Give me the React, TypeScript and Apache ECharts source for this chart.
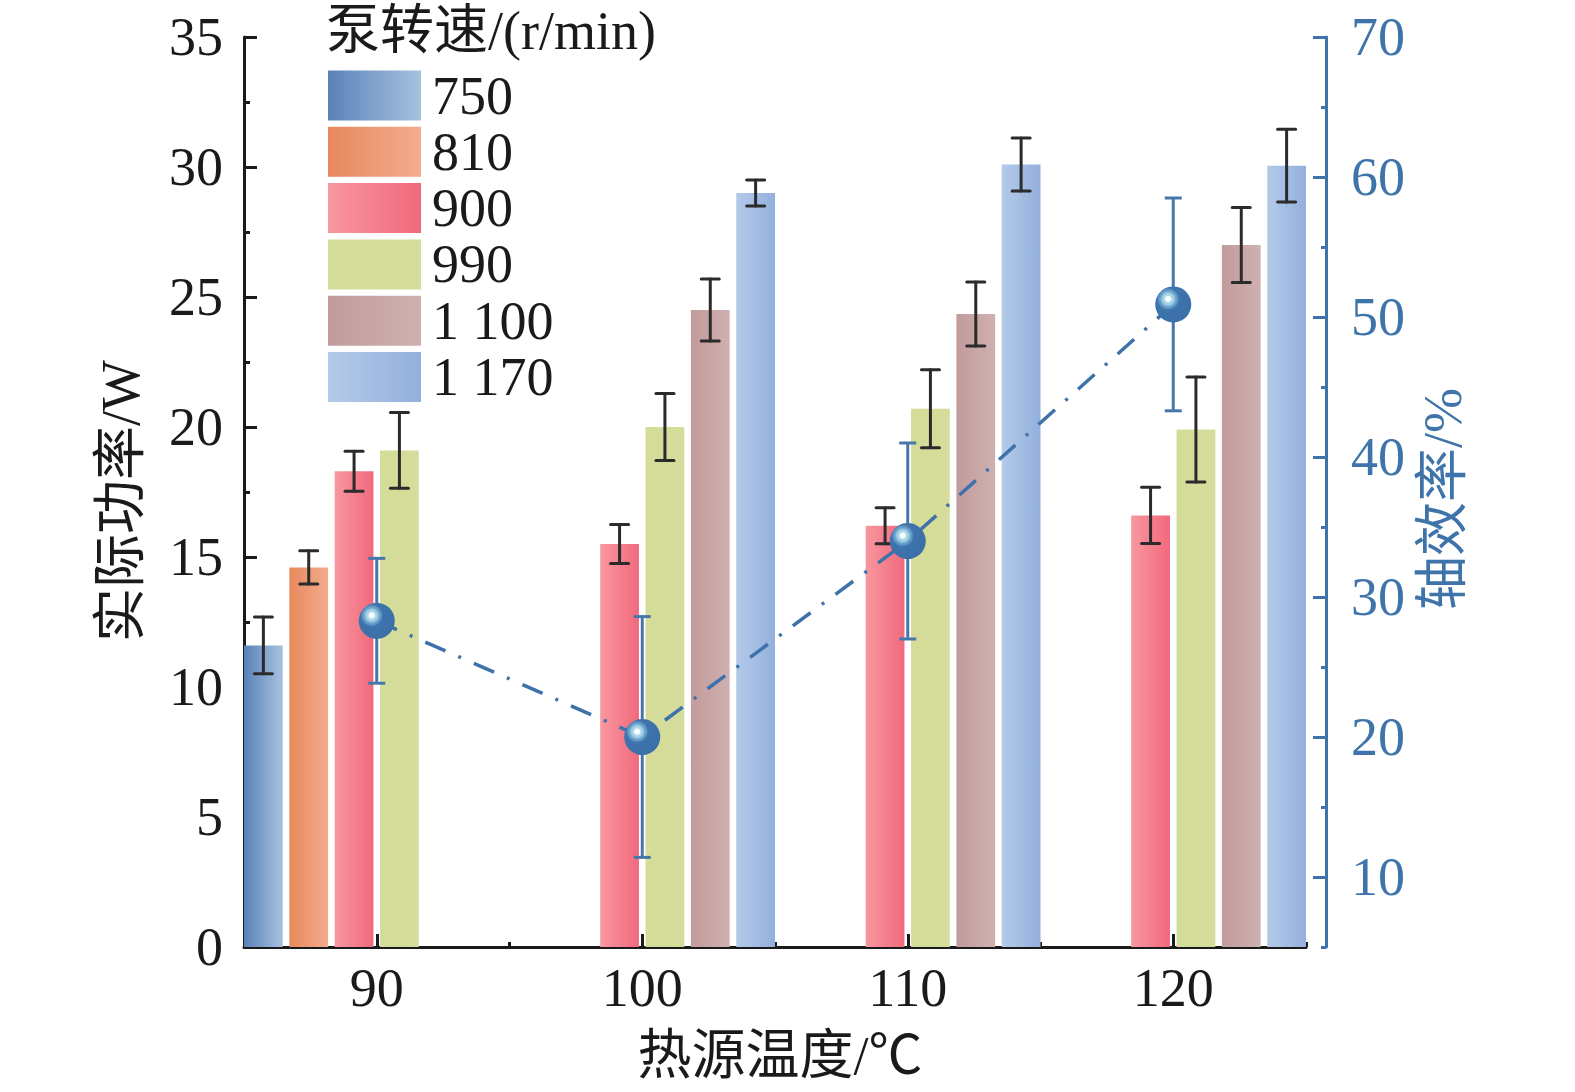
import React, { useEffect, useRef } from "react";
import * as echarts from "echarts";

// ---------- data ----------
const categories = ["90", "100", "110", "120"];
const speeds = ["750", "810", "900", "990", "1 100", "1 170"];

const power750 = [11.6, null, null, null];
const power810 = [14.6, null, null, null];
const power900 = [18.3, 15.5, 16.2, 16.6];
const power990 = [19.1, 20.0, 20.7, 19.9];
const power1100 = [null, 24.5, 24.35, 27.0];
const power1170 = [null, 29.0, 30.1, 30.05];

const err750 = [1.09, null, null, null];
const err810 = [0.64, null, null, null];
const err900 = [0.77, 0.75, 0.69, 1.08];
const err990 = [1.46, 1.29, 1.5, 2.02];
const err1100 = [null, 1.19, 1.23, 1.44];
const err1170 = [null, 0.5, 1.02, 1.4];

const efficiency = [28.3, 20.0, 34.0, 50.9];
const efficiencyErr = [4.46, 8.6, 7.0, 7.6];

const leftTicks = { min: 0, max: 35, interval: 5 };
const rightMajorTicks = [10, 20, 30, 40, 50, 60, 70];
const rightMinorTicks = [5, 15, 25, 35, 45, 55, 65];

const powerSeries = [power750, power810, power900, power990, power1100, power1170];
const errSeries = [err750, err810, err900, err990, err1100, err1170];

// ---------- styles ----------
const FONT = '"Liberation Serif", "Noto Sans CJK SC", serif';
const BLACK = "#1a1a1a";
const BLUE = "#3f74ab";
const BAR_GAP = 0.17;

const barColors: [string, string][] = [
  ["#5a82b9", "#a7c2df"],
  ["#e8885c", "#f2ad8e"],
  ["#f8979f", "#f1697d"],
  ["#d4dc98", "#d6dd9c"],
  ["#c29b9b", "#cfb0b0"],
  ["#b4cae9", "#93b0dc"],
];

function grad(c: [string, string]) {
  return new echarts.graphic.LinearGradient(0, 0, 1, 0, [
    { offset: 0, color: c[0] },
    { offset: 1, color: c[1] },
  ]);
}

export default function App() {
  const ref = useRef<HTMLDivElement>(null);

  useEffect(() => {
    if (!ref.current) return;
    const chart = echarts.init(ref.current, null, { renderer: "svg" });

    const barErrData: any[] = [];
    errSeries.forEach((arr, s) => {
      arr.forEach((e, c) => {
        const v = powerSeries[s][c];
        if (v != null && e != null) barErrData.push([c, v, s, e]);
      });
    });
    const lineErrData = efficiency.map((v, c) => [c, v, efficiencyErr[c]]);

    const renderBarErr = (params: any, api: any) => {
      const cat = api.value(0);
      const val = api.value(1);
      const s = api.value(2);
      const e = api.value(3);
      const center = api.coord([cat, val]);
      const band = api.size([1, 0])[0];
      const n = speeds.length;
      const bw = band / (n + (n - 1) * BAR_GAP);
      const x = center[0] - band / 2 + s * bw * (1 + BAR_GAP) + bw / 2;
      const yt = api.coord([cat, val + e])[1];
      const yb = api.coord([cat, val - e])[1];
      const cap = 9;
      const style = { stroke: "#2b2b2b", lineWidth: 3, lineCap: "round" };
      return {
        type: "group",
        children: [
          { type: "line", shape: { x1: x, y1: yt, x2: x, y2: yb }, style },
          { type: "line", shape: { x1: x - cap, y1: yt, x2: x + cap, y2: yt }, style },
          { type: "line", shape: { x1: x - cap, y1: yb, x2: x + cap, y2: yb }, style },
        ],
      };
    };

    const renderLineErr = (params: any, api: any) => {
      const cat = api.value(0);
      const val = api.value(1);
      const e = api.value(2);
      const x = api.coord([cat, val])[0];
      const yt = api.coord([cat, val + e])[1];
      const yb = api.coord([cat, val - e])[1];
      const cap = 8.5;
      const style = { stroke: "#4676aa", lineWidth: 3, lineCap: "butt" };
      return {
        type: "group",
        children: [
          { type: "line", shape: { x1: x, y1: yt, x2: x, y2: yb }, style },
          { type: "line", shape: { x1: x - cap, y1: yt, x2: x + cap, y2: yt }, style },
          { type: "line", shape: { x1: x - cap, y1: yb, x2: x + cap, y2: yb }, style },
        ],
      };
    };

    const sphere = new echarts.graphic.RadialGradient(0.36, 0.35, 0.9, [
      { offset: 0, color: "#ffffff" },
      { offset: 0.08, color: "#f4fbfd" },
      { offset: 0.11, color: "#b5dcec" },
      { offset: 0.19, color: "#98c9e0" },
      { offset: 0.23, color: "#72a9cf" },
      { offset: 0.3, color: "#5990c0" },
      { offset: 0.34, color: "#3e74ad" },
      { offset: 1, color: "#386ca5" },
    ]);

    const option: any = {
      animation: false,
      grid: { left: 244, right: 269, top: 37, bottom: 145, containLabel: false },
      legend: {
        data: speeds,
        orient: "vertical",
        left: 328,
        top: 68.5,
        padding: 0,
        itemWidth: 93,
        itemHeight: 50,
        itemGap: 2.3,
        icon: "rect",
        selectedMode: false,
        textStyle: { fontSize: 54, fontFamily: FONT, color: BLACK, padding: [0, 0, 0, 6] },
      },
      xAxis: [
        {
          type: "category",
          data: categories,
          position: "bottom",
          axisLine: { show: true, lineStyle: { color: BLACK, width: 3 } },
          axisTick: { show: true, inside: true, alignWithLabel: true, length: 13, lineStyle: { color: BLACK, width: 3 } },
          axisLabel: { fontSize: 54, fontFamily: FONT, color: BLACK, margin: 14 },
          splitLine: { show: false },
        },
        {
          type: "category",
          data: categories,
          position: "bottom",
          axisLine: { show: false },
          axisTick: { show: true, inside: true, alignWithLabel: false, length: 5, lineStyle: { color: BLACK, width: 3 } },
          axisLabel: { show: false },
          splitLine: { show: false },
        },
      ],
      yAxis: [
        {
          type: "value",
          position: "left",
          min: leftTicks.min,
          max: leftTicks.max,
          interval: leftTicks.interval,
          axisLine: { show: true, lineStyle: { color: BLACK, width: 3 } },
          axisTick: { show: true, inside: true, length: 13, lineStyle: { color: BLACK, width: 3 } },
          minorTick: { show: true, splitNumber: 2, length: 6, lineStyle: { color: BLACK, width: 3 } },
          axisLabel: { fontSize: 54, fontFamily: FONT, color: BLACK, margin: 21 },
          splitLine: { show: false },
          minorSplitLine: { show: false },
        },
        {
          type: "value",
          position: "right",
          offset: 20,
          min: 5,
          max: 70,
          axisLine: { show: true, lineStyle: { color: BLUE, width: 3 } },
          axisTick: { show: true, inside: true, length: 13, customValues: rightMajorTicks, lineStyle: { color: BLUE, width: 3 } },
          axisLabel: { fontSize: 54, fontFamily: FONT, color: BLUE, margin: 25, customValues: rightMajorTicks },
          splitLine: { show: false },
        },
        {
          type: "value",
          position: "right",
          offset: 20,
          min: 5,
          max: 70,
          axisLine: { show: false },
          axisTick: { show: true, inside: true, length: 5, customValues: rightMinorTicks, lineStyle: { color: BLUE, width: 3 } },
          axisLabel: { show: false },
          splitLine: { show: false },
        },
      ],
      graphic: [
        {
          type: "text",
          x: 326,
          y: 31,
          style: { text: "泵转速/(r/min)", fontSize: 54, fontFamily: FONT, fill: BLACK, align: "left", verticalAlign: "middle" },
        },
        {
          type: "text",
          x: 121,
          y: 501,
          rotation: Math.PI / 2,
          style: { text: "实际功率/W", fontSize: 54, fontFamily: FONT, fill: BLACK, align: "center", verticalAlign: "middle" },
        },
        {
          type: "text",
          x: 1443,
          y: 499,
          rotation: Math.PI / 2,
          style: { text: "轴效率/%", fontSize: 54, fontFamily: FONT, fill: BLUE, align: "center", verticalAlign: "middle" },
        },
        {
          type: "text",
          x: 780,
          y: 1056,
          style: { text: "热源温度/℃", fontSize: 54, fontFamily: FONT, fill: BLACK, align: "center", verticalAlign: "middle" },
        },
      ],
      series: [
        ...speeds.map((name, i) => ({
          name,
          type: "bar",
          xAxisIndex: 0,
          yAxisIndex: 0,
          data: powerSeries[i],
          barGap: BAR_GAP * 100 + "%",
          barCategoryGap: "0%",
          itemStyle: { color: grad(barColors[i]) },
          emphasis: { disabled: true },
          z: 2,
        })),
        {
          name: "barErr",
          type: "custom",
          xAxisIndex: 0,
          yAxisIndex: 0,
          data: barErrData,
          encode: { x: 0, y: 1 },
          renderItem: renderBarErr,
          z: 3,
          silent: true,
        },
        {
          name: "lineErr",
          type: "custom",
          xAxisIndex: 0,
          yAxisIndex: 1,
          data: lineErrData,
          encode: { x: 0, y: 1 },
          renderItem: renderLineErr,
          z: 4,
          silent: true,
        },
        {
          name: "轴效率",
          type: "line",
          xAxisIndex: 0,
          yAxisIndex: 1,
          data: efficiency,
          symbol: "circle",
          symbolSize: 36,
          itemStyle: { color: sphere },
          lineStyle: { color: "#3d72aa", width: 3.5, type: [22, 14, 3, 14], cap: "butt" },
          emphasis: { disabled: true },
          z: 5,
        },
      ],
    };

    chart.setOption(option);
    return () => chart.dispose();
  }, []);

  return (
    <div
      ref={ref}
      style={{ position: "absolute", left: 0, top: 0, width: 1575, height: 1092, background: "#fff" }}
    />
  );
}
